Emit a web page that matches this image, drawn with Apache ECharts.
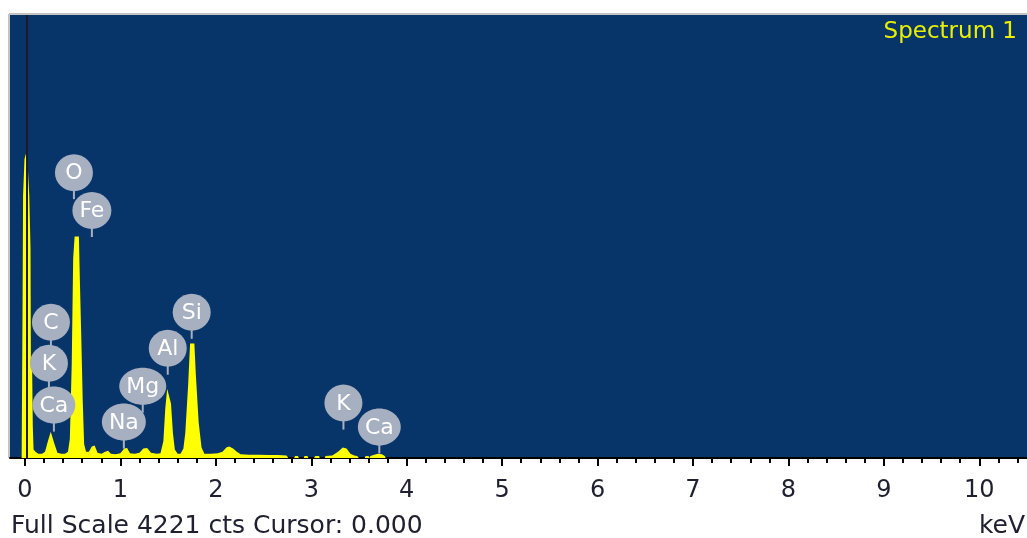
<!DOCTYPE html>
<html>
<head>
<meta charset="utf-8">
<script src="https://cdn.jsdelivr.net/npm/echarts@6/dist/echarts.min.js"></script>
<style>
  html, body { margin: 0; padding: 0; background: #fff; }
  #chart { width: 1027px; height: 538px; }
</style>
</head>
<body>
<div id="chart"></div>
<script>
// spectrum: energy (keV) and counts
const energy = [
  -0.06, -0.035, -0.025, -0.02, -0.005, 0.01, 0.025, 0.045, 0.058, 0.062, 0.075, 0.082, 0.09,
  0.11, 0.14, 0.18, 0.21, 0.24, 0.27, 0.29, 0.31, 0.34, 0.38, 0.42, 0.45, 0.47, 0.49, 0.505,
  0.52, 0.565, 0.575, 0.59, 0.605, 0.62, 0.64, 0.67, 0.70, 0.73, 0.76, 0.80, 0.84, 0.87, 0.90,
  0.95, 1.00, 1.04, 1.07, 1.10, 1.15, 1.20, 1.24, 1.28, 1.32, 1.38, 1.42, 1.45, 1.47, 1.49,
  1.51, 1.53, 1.55, 1.57, 1.60, 1.63, 1.66, 1.68, 1.71, 1.73, 1.775, 1.79, 1.82, 1.85, 1.88,
  1.95, 2.02, 2.07, 2.11, 2.14, 2.18, 2.22, 2.26, 2.35, 2.45, 2.55, 2.65, 2.74, 2.75, 2.76,
  2.82, 2.83, 2.86, 2.87, 2.92, 2.93, 2.96, 2.97, 3.03, 3.04, 3.08, 3.09, 3.14, 3.15, 3.22,
  3.28, 3.33, 3.37, 3.41, 3.45, 3.48, 3.50, 3.56, 3.57, 3.60, 3.61, 3.62, 3.66, 3.70, 3.74,
  3.77, 3.78
];
const counts = [
  0, 0, 1500, 2500, 2850, 2900, 2850, 2500, 2000, 900, 850, 300, 80,
  60, 40, 40, 60, 160, 250, 240, 130, 50, 40, 40, 60, 180, 900, 1900,
  2110, 2110, 1700, 1150, 550, 130, 60, 60, 110, 120, 50, 40, 60, 70, 40,
  35, 45, 90, 95, 45, 40, 50, 90, 95, 50, 40, 45, 160, 470, 660,
  675, 520, 240, 80, 40, 40, 90, 240, 700, 1090, 1090, 800, 340, 100, 40,
  40, 45, 60, 100, 110, 90, 60, 35, 30, 30, 28, 28, 25, 20, 0,
  0, 20, 20, 0, 0, 20, 20, 0, 0, 20, 20, 0, 0, 20, 25,
  60, 100, 90, 40, 25, 20, 0, 0, 20, 20, 0, 20, 30, 40, 35,
  20, 0
];

// element markers: name, energy and height of bubble centre
const peakNames = ["O", "Fe", "C", "K", "Ca", "Na", "Mg", "Al", "Si", "K", "Ca"];
const peakEnergy = [0.513, 0.701, 0.272, 0.251, 0.303, 1.036, 1.234, 1.496, 1.747, 3.337, 3.713];
const peakHeight = [2719, 2358, 1293, 903, 504, 342, 684, 1046, 1388, 523, 295];

const majorTicks = [0, 1, 2, 3, 4, 5, 6, 7, 8, 9, 10];
const minorTicks = [];
for (let i = 1; i <= 52; i++) {
  if (i % 5 != 0) minorTicks.push(+(i * 0.2).toFixed(1));
}

const fullScale = 4221;
const cursorAt = 0.018;
const xMin = -0.157;
const xMax = 10.5;

const FONT = "DejaVu Sans";
const bubbleColor = "#a7b0c1";

const spectrum = energy.map((e, i) => [e, counts[i]]);
const markers = peakEnergy.map((e, i) => [e, peakHeight[i], i]);

const measure = document.createElement("canvas").getContext("2d");
measure.font = "22px '" + FONT + "'";

function renderBubble(params, api) {
  const p = api.coord([api.value(0), api.value(1)]);
  const name = peakNames[params.dataIndex];
  const rx = Math.max(38, measure.measureText(name).width + 14) / 2;
  const ry = 18.5;
  return {
    type: "group",
    children: [
      {
        type: "line",
        shape: { x1: p[0], y1: p[1] + ry - 2, x2: p[0], y2: p[1] + ry + 8 },
        style: { stroke: bubbleColor, lineWidth: 2 }
      },
      {
        type: "ellipse",
        shape: { cx: p[0], cy: p[1], rx: rx, ry: ry },
        style: { fill: bubbleColor }
      },
      {
        type: "text",
        x: p[0],
        y: p[1] + 1,
        style: {
          text: name,
          fill: "#ffffff",
          font: "22px '" + FONT + "'",
          align: "center",
          verticalAlign: "middle"
        }
      }
    ]
  };
}

const chart = echarts.init(document.getElementById("chart"), null, { renderer: "canvas" });

const option = {
  backgroundColor: "#ffffff",
  animation: false,
  grid: {
    left: 10,
    right: -2,
    top: 15,
    bottom: 80,
    show: true,
    backgroundColor: "#083569",
    borderWidth: 0
  },
  xAxis: [
    {
      type: "value",
      min: xMin,
      max: xMax,
      position: "bottom",
      axisLine: { show: true, lineStyle: { color: "#000", width: 2 } },
      axisTick: {
        show: true,
        length: 8,
        customValues: majorTicks,
        lineStyle: { color: "#000", width: 2 }
      },
      axisLabel: {
        customValues: majorTicks,
        fontFamily: FONT,
        fontSize: 24,
        color: "#1f1f2f",
        margin: 21
      },
      splitLine: { show: false }
    },
    {
      type: "value",
      min: xMin,
      max: xMax,
      position: "bottom",
      axisLine: { show: false },
      axisTick: {
        show: true,
        length: 5,
        customValues: minorTicks,
        lineStyle: { color: "#000", width: 2 }
      },
      axisLabel: { show: false },
      splitLine: { show: false }
    }
  ],
  yAxis: {
    type: "value",
    min: 0,
    max: fullScale,
    show: false
  },
  series: [
    {
      name: "Spectrum 1",
      type: "line",
      data: spectrum,
      symbol: "none",
      lineStyle: { width: 0, color: "#ffff00" },
      areaStyle: { color: "#ffff00", opacity: 1 },
      markLine: {
        silent: true,
        symbol: "none",
        label: { show: false },
        lineStyle: { color: "#1c1c1c", width: 2, type: "solid" },
        data: [{ xAxis: cursorAt }]
      },
      z: 2
    },
    {
      type: "custom",
      data: markers,
      renderItem: renderBubble,
      silent: true,
      z: 5
    }
  ],
  graphic: [
    {
      type: "line",
      shape: { x1: 9, y1: 14, x2: 1027, y2: 14 },
      style: { stroke: "#c4c4c4", lineWidth: 2 }
    },
    {
      type: "line",
      shape: { x1: 9, y1: 14, x2: 9, y2: 458 },
      style: { stroke: "#c4c4c4", lineWidth: 2 }
    },
    {
      type: "text",
      x: 1017,
      y: 32,
      style: {
        text: "Spectrum 1",
        fill: "#e8f000",
        font: "23px '" + FONT + "'",
        align: "right",
        verticalAlign: "middle"
      }
    },
    {
      type: "text",
      x: 11,
      y: 526,
      style: {
        text: "Full Scale " + fullScale + " cts Cursor: 0.000",
        fill: "#202030",
        font: "25px '" + FONT + "'",
        align: "left",
        verticalAlign: "middle"
      }
    },
    {
      type: "text",
      x: 1025,
      y: 526,
      style: {
        text: "keV",
        fill: "#202030",
        font: "25px '" + FONT + "'",
        align: "right",
        verticalAlign: "middle"
      }
    }
  ]
};

chart.setOption(option);
</script>
</body>
</html>
